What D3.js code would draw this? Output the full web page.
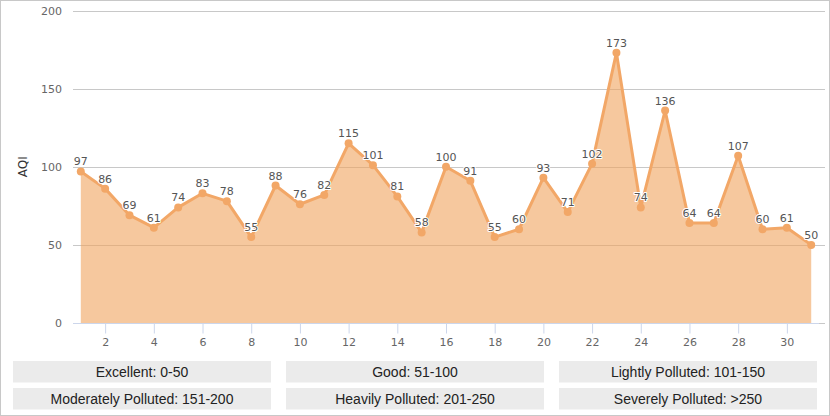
<!DOCTYPE html>
<html>
<head>
<meta charset="utf-8">
<script src="https://cdn.jsdelivr.net/npm/d3@7"></script>
<style>
  body { margin: 0; background: #fff; }
  svg { display: block; }
  .tick text { font-family: "DejaVu Sans", Verdana, sans-serif; font-size: 11px; fill: #666; }
  .legend text { font-family: "Liberation Sans", Arial, sans-serif; font-size: 14px; fill: #222; }
</style>
</head>
<body>
<script>
// chart data
var days = d3.range(1, 32);
var aqi = [97, 86, 69, 61, 74, 83, 78, 55, 88, 76, 82, 115, 101, 81, 58, 100,
           91, 55, 60, 93, 71, 102, 173, 74, 136, 64, 64, 107, 60, 61, 50];
var yTicks = [0, 50, 100, 150, 200];
var xTicks = [2, 4, 6, 8, 10, 12, 14, 16, 18, 20, 22, 24, 26, 28, 30];
var levels = ["Excellent: 0-50", "Good: 51-100", "Lightly Polluted: 101-150",
              "Moderately Polluted: 151-200", "Heavily Polluted: 201-250", "Severely Polluted: >250"];

var W = 830, H = 416;
var svg = d3.select("body").append("svg").attr("width", W).attr("height", H);

svg.append("rect").attr("x", 0.5).attr("y", 0.5)
    .attr("width", W - 1).attr("height", H - 1)
    .attr("fill", "none").attr("stroke", "#c8c8c8");

var x = d3.scaleLinear().domain([0.68, 31.32]).range([73, 819]);
var y = d3.scaleLinear().domain([0, 200]).range([323, 10.5]);

// grid
var grid = svg.append("g");
grid.selectAll("line").data(yTicks).join("line")
    .attr("x1", 73).attr("x2", 825)
    .attr("y1", function (d) { return Math.round(y(d)) + 0.5; })
    .attr("y2", function (d) { return Math.round(y(d)) + 0.5; })
    .attr("stroke", "#c8c8c8");

// y axis labels
var yAxis = svg.append("g").attr("transform", "translate(62,0)")
    .call(d3.axisLeft(y).tickValues(yTicks).tickSize(0).tickPadding(0));
yAxis.select(".domain").remove();
yAxis.selectAll("text").attr("dy", "0.35em");

svg.append("text")
    .attr("transform", "translate(27," + y(100) + ") rotate(-90)")
    .attr("text-anchor", "middle")
    .attr("font-family", "DejaVu Sans, Verdana, sans-serif")
    .attr("font-size", 12).attr("fill", "#333")
    .text("AQI");

// area + line
var area = d3.area()
    .x(function (d, i) { return x(days[i]); })
    .y0(y(0))
    .y1(function (d) { return y(d); });
var line = d3.line()
    .x(function (d, i) { return x(days[i]); })
    .y(function (d) { return y(d); });

svg.append("path").datum(aqi)
    .attr("d", area).attr("fill", "#f0a35e").attr("fill-opacity", 0.6);
svg.append("path").datum(aqi)
    .attr("d", line).attr("fill", "none")
    .attr("stroke", "#f2a767").attr("stroke-width", 3).attr("stroke-linejoin", "round");

svg.append("g").selectAll("circle").data(aqi).join("circle")
    .attr("cx", function (d, i) { return x(days[i]); })
    .attr("cy", function (d) { return y(d); })
    .attr("r", 4).attr("fill", "#f2a767");

svg.append("g").selectAll("text").data(aqi).join("text")
    .attr("x", function (d, i) { return x(days[i]); })
    .attr("y", function (d) { return y(d) - 6; })
    .attr("text-anchor", "middle")
    .attr("font-family", "DejaVu Sans, Verdana, sans-serif")
    .attr("font-size", 11).attr("fill", "#555")
    .attr("stroke", "#fff").attr("stroke-width", 2).attr("stroke-linejoin", "round")
    .attr("paint-order", "stroke")
    .text(function (d) { return d; });

// x axis
var xAxis = svg.append("g").attr("transform", "translate(0," + (y(0) + 0.5) + ")")
    .call(d3.axisBottom(x).tickValues(xTicks).tickSize(10).tickPadding(5));
xAxis.select(".domain").attr("stroke", "#ccd6eb").attr("d", "M73,0H819");
xAxis.selectAll(".tick line").attr("stroke", "#ccd6eb");

// legend boxes
var legend = svg.append("g").attr("class", "legend");
var bw = 258, bh = 21.5;
var cell = legend.selectAll("g").data(levels).join("g")
    .attr("transform", function (d, i) {
      return "translate(" + (13 + (i % 3) * 273) + "," + (361 + Math.floor(i / 3) * 27) + ")";
    });
cell.append("rect").attr("width", bw).attr("height", bh).attr("fill", "#ebebeb");
cell.append("text").attr("x", bw / 2).attr("y", bh / 2).attr("dy", "0.36em")
    .attr("text-anchor", "middle").text(function (d) { return d; });
</script>
</body>
</html>
